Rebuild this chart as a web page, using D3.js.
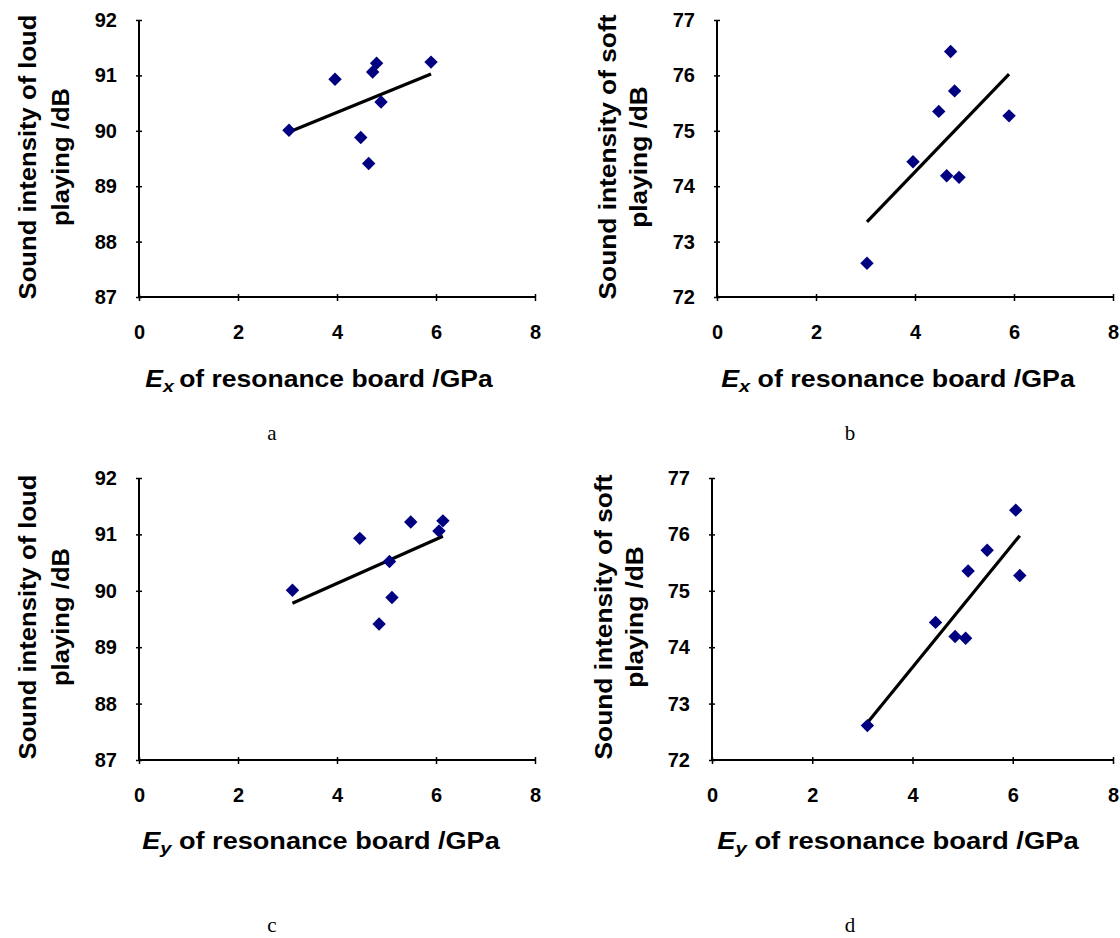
<!DOCTYPE html>
<html><head><meta charset="utf-8">
<script src="https://cdn.jsdelivr.net/npm/d3@7"></script>
<style>body{margin:0;background:#fff} svg{display:block}</style>
</head><body><svg id="chart" width="1120" height="938"></svg>
<script>
// ---- data ----
const xTicks = [0, 2, 4, 6, 8];
const loudTicks = [87, 88, 89, 90, 91, 92];
const softTicks = [72, 73, 74, 75, 76, 77];
// eight resonance boards (same order in every array)
const exValues   = [3.03, 3.96, 4.48, 4.64, 4.72, 4.80, 4.89, 5.90];
const eyValues   = [3.10, 4.46, 5.11, 4.85, 6.06, 5.49, 5.06, 6.14];
const loudValues = [90.01, 90.93, 89.88, 89.41, 91.06, 91.22, 90.52, 91.24];
const softValues = [72.61, 74.44, 75.35, 74.19, 76.43, 75.72, 74.16, 75.27];
const captions = ["a", "b", "c", "d"];
const yTitleLines = [["Sound intensity of loud", "playing /dB"], ["Sound intensity of soft", "playing /dB"]];

// ---- layout ----
const panels = [
  {cap: captions[0], xv: exValues, yv: loudValues, yt: loudTicks, sub: "x", sep: "\u2009", yl: yTitleLines[0],
   L: 139, R: 535, T: 20, B: 297, ty1: 28, ty2: 61, tyc: 157, txc: 319, txb: 387, txw: 348, capx: 272, capy: 440},
  {cap: captions[1], xv: exValues, yv: softValues, yt: softTicks, sub: "x", sep: " ", yl: yTitleLines[1],
   L: 717, R: 1113, T: 20, B: 297, ty1: 607, ty2: 638, tyc: 157, txc: 898, txb: 387, txw: 354, capx: 850, capy: 440},
  {cap: captions[2], xv: eyValues, yv: loudValues, yt: loudTicks, sub: "y", sep: " ", yl: yTitleLines[0],
   L: 139, R: 535, T: 478, B: 760, ty1: 28, ty2: 61, tyc: 617, txc: 321, txb: 849, txw: 358, capx: 272, capy: 932},
  {cap: captions[3], xv: eyValues, yv: softValues, yt: softTicks, sub: "y", sep: " ", yl: yTitleLines[1],
   L: 712, R: 1113, T: 478, B: 760, ty1: 603, ty2: 634, tyc: 617, txc: 898, txb: 849, txw: 362, capx: 850, capy: 932}
];

const svg = d3.select("#chart");
const sans = "'Liberation Sans', Arial, sans-serif";

function fit(xs, ys) {
  const mx = d3.mean(xs), my = d3.mean(ys);
  let sxy = 0, sxx = 0;
  xs.forEach((x, i) => { sxy += (x - mx) * (ys[i] - my); sxx += (x - mx) * (x - mx); });
  const b = sxy / sxx, a = my - b * mx;
  return x => a + b * x;
}

panels.forEach(p => {
  const x = d3.scaleLinear().domain([xTicks[0], xTicks[xTicks.length - 1]]).range([p.L, p.R]);
  const y = d3.scaleLinear().domain([p.yt[0], p.yt[p.yt.length - 1]]).range([p.B, p.T]);
  const g = svg.append("g");

  // y axis
  const ya = g.append("g").attr("transform", `translate(${p.L},0)`)
    .call(d3.axisLeft(y).tickValues(p.yt).tickFormat(d3.format("d")).tickSize(3).tickPadding(19));
  ya.select(".domain").attr("stroke", "#000").attr("stroke-width", 2).attr("d", `M0,${p.T}V${p.B}`);
  ya.selectAll(".tick line").attr("stroke", "#000").attr("stroke-width", 1.5).attr("x1", 3).attr("x2", -3);
  ya.selectAll(".tick text").attr("font-family", sans).attr("font-weight", "bold").attr("font-size", 20).attr("fill", "#000");

  // x axis
  const xa = g.append("g").attr("transform", `translate(0,${p.B})`)
    .call(d3.axisBottom(x).tickValues(xTicks).tickFormat(d3.format("d")).tickSize(3).tickPadding(25));
  xa.select(".domain").attr("stroke", "#000").attr("stroke-width", 2).attr("d", `M${p.L},0H${p.R}`);
  xa.selectAll(".tick line").attr("stroke", "#000").attr("stroke-width", 1.5).attr("y1", -3).attr("y2", 4);
  xa.selectAll(".tick text").attr("font-family", sans).attr("font-weight", "bold").attr("font-size", 20).attr("fill", "#000");

  // trend line
  const f = fit(p.xv, p.yv);
  const x0 = d3.min(p.xv), x1 = d3.max(p.xv);
  g.append("line")
    .attr("x1", x(x0)).attr("y1", y(f(x0))).attr("x2", x(x1)).attr("y2", y(f(x1)))
    .attr("stroke", "#000").attr("stroke-width", 3.2);

  // points (diamonds)
  const sym = d3.symbol().type(d3.symbolSquare).size(90);
  g.selectAll("path.pt").data(p.xv.map((v, i) => [v, p.yv[i]])).join("path")
    .attr("class", "pt")
    .attr("d", sym)
    .attr("transform", d => `translate(${x(d[0])},${y(d[1])}) rotate(45)`)
    .attr("fill", "#000080");

  // y title (two rotated lines)
  const yt = g.append("g");
  const l1 = yt.append("text").text(p.yl[0]);
  const l2 = yt.append("text").text(p.yl[1]);
  [l1, l2].forEach(t => t.attr("font-family", sans).attr("font-weight", "bold").attr("font-size", 24)
    .attr("text-anchor", "middle").attr("dominant-baseline", "central").attr("fill", "#000"));
  const w1 = l1.node().getComputedTextLength();
  const k = 285 / w1;
  l1.attr("transform", `translate(${p.ty1},${p.tyc}) rotate(-90) scale(${k},1)`);
  l2.attr("transform", `translate(${p.ty2},${p.tyc}) rotate(-90) scale(${k},1)`);

  // x title
  const xt = g.append("text").attr("font-family", sans).attr("font-weight", "bold").attr("font-size", 23)
    .attr("text-anchor", "middle").attr("fill", "#000");
  xt.append("tspan").attr("font-style", "italic").text("E");
  xt.append("tspan").attr("font-style", "italic").attr("font-size", 17).attr("dy", 5).text(p.sub);
  xt.append("tspan").attr("dy", -5).text(p.sep + "of resonance board /GPa");
  const wx = xt.node().getBBox().width;
  xt.attr("transform", `translate(${p.txc},${p.txb}) scale(${p.txw / wx},1)`);

  // caption
  g.append("text").attr("x", p.capx).attr("y", p.capy).attr("text-anchor", "middle")
    .attr("font-family", "'Liberation Serif', 'Times New Roman', serif").attr("font-size", 21)
    .attr("fill", "#000").text(p.cap);
});
</script>
</body></html>
